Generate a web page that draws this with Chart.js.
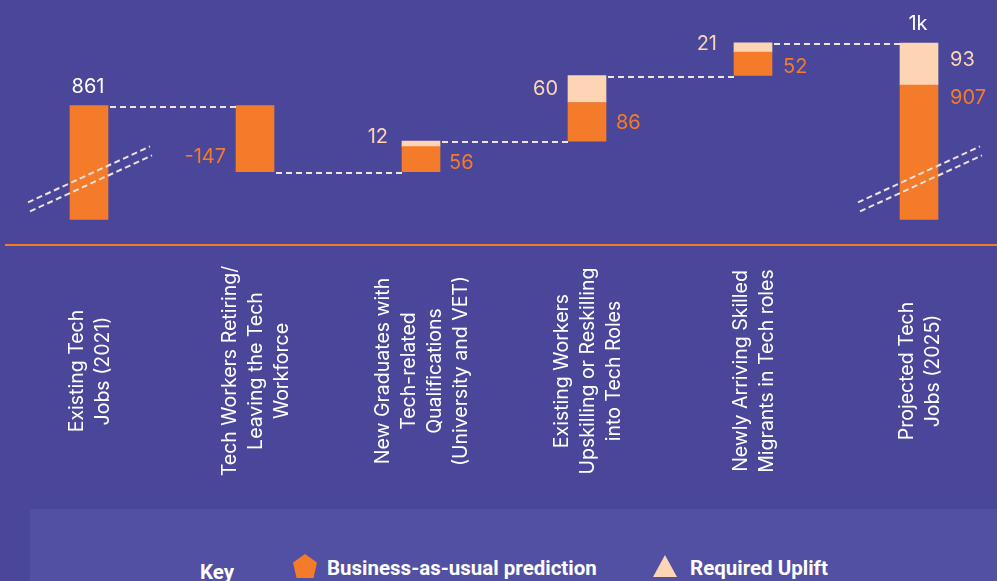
<!DOCTYPE html>
<html>
<head>
<meta charset="utf-8">
<script src="https://cdn.jsdelivr.net/npm/chart.js@4.4.1/dist/chart.umd.min.js"></script>
<style>
  html, body { margin:0; padding:0; width:997px; height:581px; overflow:hidden; background:#4a4699; font-family: Roboto, "Noto Sans", sans-serif; }
  #wrap { position:absolute; left:0; top:0; width:997px; height:505px; overflow:hidden; }
  #key { position:absolute; left:30px; top:509px; width:967px; height:80px; background:#5250a2; color:#ffffff; font-weight:700; font-size:20.5px; line-height:20.5px; }
  #key span { position:absolute; white-space:nowrap; }
  #key svg { position:absolute; }
</style>
</head>
<body>
<div id="wrap"><canvas id="c" width="1002" height="505"></canvas></div>
<div id="key">
  <span style="left:170px; top:53px;">Key</span>
  <svg style="left:263px; top:45px;" width="24" height="24" viewBox="0 0 24 24"><polygon points="12,0 24,8.5 20.5,24 3.5,24 0,8.5" fill="#f47b2a"/></svg>
  <span style="left:297px; top:49px;">Business-as-usual prediction</span>
  <svg style="left:623px; top:46px;" width="24" height="22" viewBox="0 0 24 22"><polygon points="12,0 24,22 0,22" fill="#fdd4b4"/></svg>
  <span style="left:660px; top:49px;">Required Uplift</span>
</div>
<script>
// ---- data ----
const categories = [
  ['Existing Tech', 'Jobs (2021)'],
  ['Tech Workers Retiring/', 'Leaving the Tech', 'Workforce'],
  ['New Graduates with', 'Tech-related', 'Qualifications', '(University and VET)'],
  ['Existing Workers', 'Upskilling or Reskilling', 'into Tech Roles'],
  ['Newly Arriving Skilled', 'Migrants in Tech roles'],
  ['Projected Tech', 'Jobs (2025)']
];
const barKinds = ['total', 'step', 'step', 'step', 'step', 'total'];
const bauValues = [861, -147, 56, 86, 52, 907];
const upliftValues = [0, 0, 12, 60, 21, 93];
const axisBreakValue = 608;   // truncated axis: where the total bars are cut
const breakMarkValue = 698;   // where the axis-break marks sit
const yMin = 551, yMax = 1096;

// ---- styles ----
const ORANGE = '#f47b2a', PEACH = '#fdd4b4', WHITE = '#ffffff', DASH = '#efe2df';
const FONT = 'Inter, Roboto, sans-serif';

// ---- build floating ranges (waterfall) ----
const bauRanges = [], upRanges = [], levels = [];
let running = 0;
barKinds.forEach((k, i) => {
  if (k === 'total') {
    bauRanges.push([axisBreakValue, bauValues[i]]);
    upRanges.push(upliftValues[i] ? [bauValues[i], bauValues[i] + upliftValues[i]] : null);
    running = bauValues[i] + upliftValues[i];
  } else {
    const a = running, b = running + bauValues[i];
    bauRanges.push([Math.min(a, b), Math.max(a, b)]);
    running = b;
    if (upliftValues[i]) { upRanges.push([running, running + upliftValues[i]]); running += upliftValues[i]; }
    else upRanges.push(null);
  }
  levels.push(running);
});
const fmt = v => v >= 1000 ? (Math.round(v / 100) / 10) + 'k' : String(v);

// label placement (style only)
const placement = [
  { total: true },
  { bau: { side: 'left', anchor: 'bottom', dy: -15, gap: 10 } },
  { bau: { side: 'right', anchor: 'bottom', dy: -9, gap: 9 }, up: { side: 'left', anchor: 'top', dy: -4, gap: 14 } },
  { bau: { side: 'right', anchor: 'center', dy: 1, gap: 10 }, up: { side: 'left', anchor: 'center', dy: 0, gap: 10 } },
  { bau: { side: 'right', anchor: 'center', dy: 3, gap: 11 }, up: { side: 'left', anchor: 'center', dy: -3, gap: 17 } },
  { total: true, bau: { side: 'right', anchor: 'top', dy: 13, gap: 12 }, up: { side: 'right', anchor: 'center', dy: -4, gap: 12 } }
];

const decor = {
  id: 'decor',
  afterDatasetsDraw(chart) {
    const ctx = chart.ctx;
    const ys = chart.scales.y, xs = chart.scales.x;
    const meta = chart.getDatasetMeta(0);
    ctx.save();
    // connectors
    ctx.strokeStyle = DASH; ctx.lineWidth = 2; ctx.setLineDash([6, 4]);
    for (let i = 0; i < levels.length - 1; i++) {
      const a = meta.data[i], b = meta.data[i + 1];
      const y = Math.round(ys.getPixelForValue(levels[i])) + 1;
      ctx.beginPath();
      ctx.moveTo(a.x + a.width / 2 + 2, y);
      ctx.lineTo(b.x - b.width / 2, y);
      ctx.stroke();
    }
    // axis break marks
    ctx.setLineDash([6, 3.5]);
    barKinds.forEach((k, i) => {
      if (k !== 'total') return;
      const cx = meta.data[i].x;
      const my = ys.getPixelForValue(breakMarkValue);
      [[-4.5, 0], [4.5, 2]].forEach(([oy, ox]) => {
        ctx.beginPath();
        ctx.moveTo(cx + ox - 61, my + oy + 28);
        ctx.lineTo(cx + ox + 61, my + oy - 28);
        ctx.stroke();
      });
    });
    ctx.setLineDash([]);
    // value labels
    ctx.font = '400 20px ' + FONT;
    ctx.textBaseline = 'middle';
    const drawSide = (i, range, spec, text, color) => {
      const el = meta.data[i];
      const top = ys.getPixelForValue(range[1]), bot = ys.getPixelForValue(range[0]);
      let y = spec.anchor === 'top' ? top : spec.anchor === 'bottom' ? bot : (top + bot) / 2;
      y += spec.dy;
      ctx.fillStyle = color;
      if (spec.side === 'left') { ctx.textAlign = 'right'; ctx.fillText(text, el.x - el.width / 2 - spec.gap, y); }
      else { ctx.textAlign = 'left'; ctx.fillText(text, el.x + el.width / 2 + spec.gap, y); }
    };
    placement.forEach((p, i) => {
      if (p.total) {
        const topVal = bauValues[i] + upliftValues[i];
        ctx.fillStyle = WHITE; ctx.textAlign = 'center';
        ctx.fillText(fmt(topVal), meta.data[i].x - 1, ys.getPixelForValue(topVal) - 19);
      }
      if (p.bau) drawSide(i, bauRanges[i], p.bau, fmt(bauValues[i]), ORANGE);
      if (p.up && upRanges[i]) drawSide(i, upRanges[i], p.up, fmt(upliftValues[i]), PEACH);
    });
    // category labels (rotated, centred)
    ctx.font = '400 19.5px ' + FONT;
    ctx.fillStyle = WHITE; ctx.textAlign = 'center'; ctx.textBaseline = 'middle';
    const lh = 26, cy = 371;
    categories.forEach((lines, i) => {
      const x = xs.getPixelForValue(i) + 1;
      ctx.save();
      ctx.translate(x, cy);
      ctx.rotate(-Math.PI / 2);
      lines.forEach((t, j) => ctx.fillText(t, 0, (j - (lines.length - 1) / 2) * lh));
      ctx.restore();
    });
    ctx.restore();
  }
};

new Chart(document.getElementById('c'), {
  type: 'bar',
  data: {
    labels: categories,
    datasets: [
      { label: 'Business-as-usual prediction', data: bauRanges, backgroundColor: ORANGE, barThickness: 38, grouped: false, borderWidth: 0 },
      { label: 'Required Uplift', data: upRanges, backgroundColor: PEACH, barThickness: 38, grouped: false, borderWidth: 0 }
    ]
  },
  options: {
    responsive: false,
    animation: false,
    layout: { padding: { left: 6, right: 0, top: 0, bottom: 252 } },
    plugins: { legend: { display: false }, tooltip: { enabled: false } },
    scales: {
      x: { grid: { display: false }, ticks: { display: false }, border: { display: true, color: ORANGE, width: 2 } },
      y: { display: false, min: yMin, max: yMax }
    }
  },
  plugins: [decor]
});
</script>
</body>
</html>
